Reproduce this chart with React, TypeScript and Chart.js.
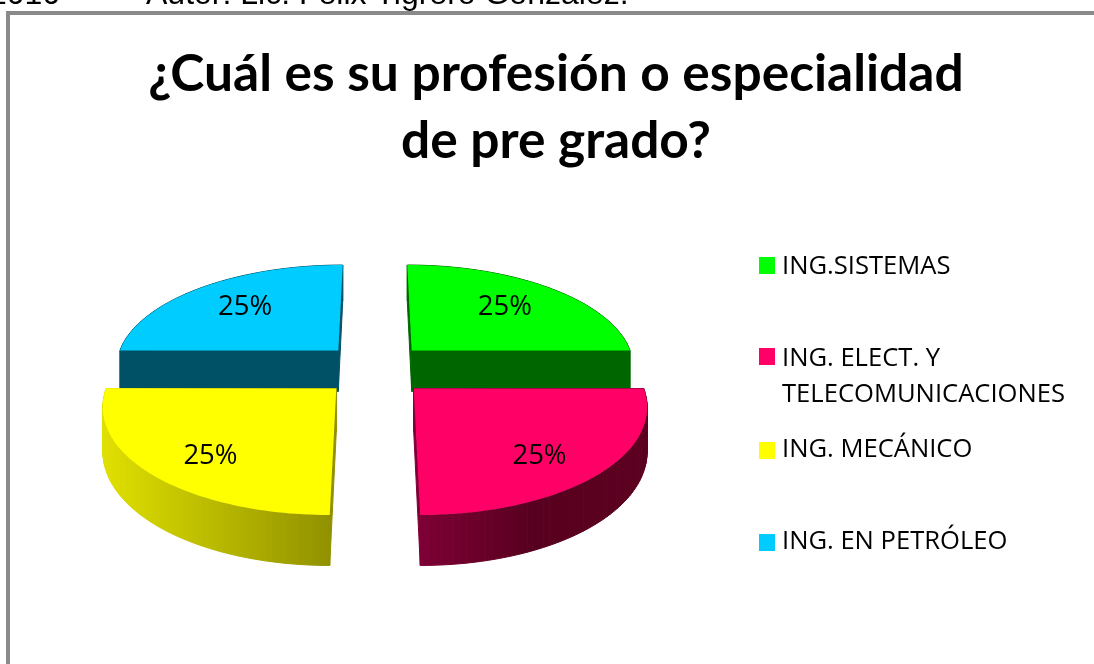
import React, { useEffect, useRef } from "react";
import { Chart, registerables } from "chart.js";

Chart.register(...registerables);

const titleLines = ["¿Cuál es su profesión o especialidad", "de pre grado?"];
const headerYear = "2010";
const headerAuthor = "Autor: Lic. Félix Tigrero González.";
const categories = [
  ["ING.SISTEMAS"],
  ["ING. ELECT. Y", "TELECOMUNICACIONES"],
  ["ING. MECÁNICO"],
  ["ING. EN PETRÓLEO"],
];
const shares = [25, 25, 25, 25];
const faceColors = ["#00ff00", "#ff0066", "#ffff00", "#00ccff"];
const wallColors = [
  ["#006600", "#006600"],
  ["#800036", "#58001f", "#5c0020"],
  ["#e0e000", "#8f8f00"],
  ["#005166", "#005166"],
];

const LEGEND_FONT = '25.6px "Open Sans", sans-serif';
const VALUE_FONT = '27.5px "Open Sans", sans-serif';

// Tilted-disc projection (unit disc → screen)
const CX = 375, CY = 369, A = 224, B = 102.4, K = 0.1417, DEPTH = 42;
const project = (u: number, v: number, z = 0) => {
  const w = 1 - K * v;
  return [CX + (A * u) / w, CY + (B * v) / w + z / w];
};

const outline = (el: any) => {
  const mid = (el.startAngle + el.endAngle) / 2;
  const ou = 0.238 * Math.cos(mid), ov = 0.263 * Math.sin(mid);
  const pts: [number, number][] = [[ou, ov]];
  const steps = 64;
  for (let i = 0; i <= steps; i++) {
    const t = el.startAngle + ((el.endAngle - el.startAngle) * i) / steps;
    pts.push([ou + Math.cos(t), ov + Math.sin(t)]);
  }
  return { pts, mid, ou, ov };
};

const pie3d = {
  id: "pie3d",
  beforeDraw(chart: any) {
    const { ctx, width, height } = chart;
    ctx.save();
    ctx.fillStyle = "#ffffff";
    ctx.fillRect(0, 0, width, height);
    ctx.fillStyle = "#8a8a8a";
    ctx.fillRect(6, 11, width - 6, 4);
    ctx.fillRect(6, 11, 4, height - 11);
    ctx.fillStyle = "#000000";
    ctx.font = '32px "Liberation Sans", Arial, sans-serif';
    ctx.textBaseline = "alphabetic";
    ctx.textAlign = "left";
    ctx.fillText(headerYear, -11, 4);
    ctx.fillText(headerAuthor, 146, 4);
    ctx.restore();
  },
  beforeDatasetDraw() {
    return false;
  },
  afterDatasetsDraw(chart: any) {
    const { ctx } = chart;
    const elements = chart.getDatasetMeta(0).data;
    const order = elements
      .map((el: any, i: number) => ({ el, i, g: outline(el) }))
      .sort((a: any, b: any) => Math.sin(a.g.mid) - Math.sin(b.g.mid));
    ctx.save();
    for (const { el, i, g } of order) {
      const poly = g.pts.map(([u, v]: number[]) => project(u, v));
      const low = g.pts.map(([u, v]: number[]) => project(u, v, DEPTH));
      const xs = poly.map((p: number[]) => p[0]);
      const grad = ctx.createLinearGradient(Math.min(...xs), 0, Math.max(...xs), 0);
      wallColors[i].forEach((c, n, all) => grad.addColorStop(n / (all.length - 1), c));
      ctx.fillStyle = grad;
      ctx.strokeStyle = grad;
      ctx.lineWidth = 1;
      for (let n = 0; n < poly.length; n++) {
        const m = (n + 1) % poly.length;
        ctx.beginPath();
        ctx.moveTo(poly[n][0], poly[n][1]);
        ctx.lineTo(poly[m][0], poly[m][1]);
        ctx.lineTo(low[m][0], low[m][1]);
        ctx.lineTo(low[n][0], low[n][1]);
        ctx.closePath();
        ctx.fill();
        ctx.stroke();
      }
      ctx.beginPath();
      poly.forEach((p: number[], n: number) => (n ? ctx.lineTo(p[0], p[1]) : ctx.moveTo(p[0], p[1])));
      ctx.closePath();
      ctx.fillStyle = el.options.backgroundColor;
      ctx.fill();
    }
    const total = shares.reduce((a, b) => a + b, 0);
    ctx.fillStyle = "#000000";
    ctx.font = VALUE_FONT;
    ctx.textAlign = "center";
    ctx.textBaseline = "middle";
    for (const { i, g } of order) {
      const front = Math.sin(g.mid) > 0;
      const ru = front ? 0.69 : 0.66;
      const rv = front ? 0.8 : 0.69;
      const [x, y] = project(g.ou + ru * Math.cos(g.mid), g.ov + rv * Math.sin(g.mid));
      ctx.fillText(`${Math.round((shares[i] / total) * 100)}%`, x, y + 1);
    }
    ctx.restore();
  },
  afterDraw(chart: any) {
    const { ctx } = chart;
    const lineCentres = [[267], [359, 395], [450], [542]];
    const boxTops = [257, 348, 442, 534];
    ctx.save();
    ctx.font = LEGEND_FONT;
    ctx.textAlign = "left";
    ctx.textBaseline = "middle";
    categories.forEach((lines, i) => {
      ctx.fillStyle = faceColors[i];
      ctx.fillRect(759, boxTops[i], 16, 17);
      ctx.fillStyle = "#000000";
      lines.forEach((line, n) => ctx.fillText(line, 782, lineCentres[i][n]));
    });
    ctx.restore();
  },
};

export default function App() {
  const ref = useRef<HTMLCanvasElement>(null);
  useEffect(() => {
    const chart = new Chart(ref.current as HTMLCanvasElement, {
      type: "pie",
      data: {
        labels: categories.map((c) => c.join(" ")),
        datasets: [{ data: shares, backgroundColor: faceColors, borderWidth: 0 }],
      },
      options: {
        responsive: false,
        animation: false,
        layout: { padding: { left: 18, top: 0 } },
        plugins: {
          legend: { display: false },
          tooltip: { enabled: false },
          title: {
            display: true,
            text: titleLines,
            color: "#000000",
            font: { family: "Lato, sans-serif", size: 51.5, weight: "bold", lineHeight: 1.3 },
            padding: { top: 41, bottom: 10 },
          },
        },
      },
      plugins: [pie3d],
    } as any);
    return () => chart.destroy();
  }, []);
  return (
    <canvas
      ref={ref}
      width={1094}
      height={664}
      style={{ position: "absolute", left: 0, top: 0, display: "block" }}
    />
  );
}
